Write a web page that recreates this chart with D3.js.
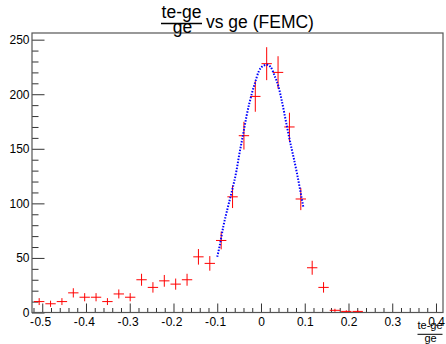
<!DOCTYPE html>
<html>
<head>
<meta charset="utf-8">
<script src="https://cdn.jsdelivr.net/npm/d3@7"></script>
<style>
  html, body { margin: 0; padding: 0; background: #fff; }
  svg { display: block; }
  text { font-family: "Liberation Sans", Arial, Helvetica, sans-serif; fill: #000; }
</style>
</head>
<body>
<svg id="chart" width="446" height="344"></svg>
<script>
// ---- data ----
const binCenters = [-0.507, -0.481, -0.455, -0.429, -0.403, -0.377, -0.351, -0.325, -0.299, -0.273,
                    -0.247, -0.221, -0.195, -0.169, -0.143, -0.117, -0.091, -0.065, -0.039, -0.013,
                     0.013,  0.039,  0.065,  0.091,  0.117,  0.143,  0.169,  0.195,  0.221];
const counts     = [10, 8, 10, 18, 14, 14, 10, 17, 14, 30,
                    23, 29, 26, 30, 51, 45, 66, 106, 162, 198,
                    228, 220, 170, 104, 41, 23, 2, 1, 1];
const binWidth = 0.026;

// fitted curve (dotted blue)
const fitX = [-0.100, -0.095, -0.086, -0.076, -0.066, -0.056, -0.050, -0.040, -0.033, -0.020,
              -0.014, -0.005, 0.005, 0.014, 0.022, 0.032, 0.040, 0.047, 0.059, 0.070,
               0.074, 0.082, 0.091, 0.097];
const fitY = [51, 60, 79, 96, 112, 130, 144, 165, 180, 202,
              210, 221, 226, 227, 225, 216, 207, 195, 171, 150,
              143, 128, 109, 96];

const xMajorTicks = [-0.5, -0.4, -0.3, -0.2, -0.1, 0, 0.1, 0.2, 0.3, 0.4];
const xTickLabels = ["-0.5", "-0.4", "-0.3", "-0.2", "-0.1", "0", "0.1", "0.2", "0.3", "0.4"];
const xMinorTicks = [-0.52, -0.48, -0.46, -0.44, -0.42, -0.38, -0.36, -0.34, -0.32, -0.28, -0.26, -0.24, -0.22,
                     -0.18, -0.16, -0.14, -0.12, -0.08, -0.06, -0.04, -0.02, 0.02, 0.04, 0.06, 0.08,
                     0.12, 0.14, 0.16, 0.18, 0.22, 0.24, 0.26, 0.28, 0.32, 0.34, 0.36, 0.38];
const yMajorTicks = [0, 50, 100, 150, 200, 250];
const yTickLabels = ["0", "50", "100", "150", "200", "250"];
const yMinorTicks = [10, 20, 30, 40, 60, 70, 80, 90, 110, 120, 130, 140, 160, 170, 180, 190,
                     210, 220, 230, 240];

const xDomain = [-0.5234, 0.4160];
const yDomain = [0, 256.1];

// ---- layout ----
const frame = { left: 32, right: 443, top: 33, bottom: 312.5 };
const svg = d3.select("#chart");

const x = d3.scaleLinear().domain(xDomain).range([frame.left, frame.right]);
const y = d3.scaleLinear().domain(yDomain).range([frame.bottom, frame.top]);

const axisColor = "#333";

// clip
svg.append("defs").append("clipPath").attr("id", "clip")
  .append("rect")
  .attr("x", frame.left).attr("y", frame.top)
  .attr("width", frame.right - frame.left).attr("height", frame.bottom - frame.top);

// ---- axes ----
const xMajorLen = 9, xMinorLen = 4.5, yMajorLen = 12.5, yMinorLen = 6.5;

// x minor
svg.append("g")
  .attr("transform", `translate(0,${frame.bottom})`)
  .call(d3.axisBottom(x).tickValues(xMinorTicks).tickSize(-xMinorLen).tickFormat(""))
  .call(g => g.select(".domain").remove())
  .call(g => g.selectAll("line").attr("stroke", axisColor));

// x major with labels
const xAxisG = svg.append("g")
  .attr("transform", `translate(0,${frame.bottom})`)
  .call(d3.axisBottom(x).tickValues(xMajorTicks).tickSize(-xMajorLen).tickPadding(5)
        .tickFormat((d, i) => xTickLabels[i].replace("-", "")))
  .call(g => g.select(".domain").remove())
  .call(g => g.selectAll("line").attr("stroke", axisColor));
xAxisG.selectAll("text")
  .attr("font-size", 12)
  .attr("font-family", "Liberation Sans, Arial, sans-serif");
// ROOT style: center label on the unsigned number, minus sign sits to its left
xAxisG.selectAll(".tick").each(function (d, i) {
  const lab = xTickLabels[i];
  if (lab.startsWith("-")) {
    const t = d3.select(this).select("text");
    const w = t.node().getComputedTextLength();
    d3.select(this).append("text")
      .attr("x", -w / 2 - 0.3)
      .attr("y", t.attr("y"))
      .attr("dy", t.attr("dy"))
      .attr("text-anchor", "end")
      .attr("font-size", 12)
      .attr("font-family", "Liberation Sans, Arial, sans-serif")
      .attr("fill", "#000")
      .text("-");
  }
});

// y minor
svg.append("g")
  .attr("transform", `translate(${frame.left},0)`)
  .call(d3.axisLeft(y).tickValues(yMinorTicks).tickSize(-yMinorLen).tickFormat(""))
  .call(g => g.select(".domain").remove())
  .call(g => g.selectAll("line").attr("stroke", axisColor));

// y major
svg.append("g")
  .attr("transform", `translate(${frame.left},0)`)
  .call(d3.axisLeft(y).tickValues(yMajorTicks).tickSize(-yMajorLen).tickPadding(2.5)
        .tickFormat((d, i) => yTickLabels[i]))
  .call(g => g.select(".domain").remove())
  .call(g => g.selectAll("line").attr("stroke", axisColor))
  .call(g => g.selectAll("text").attr("font-size", 12)
        .attr("font-family", "Liberation Sans, Arial, sans-serif"));

// frame
svg.append("rect")
  .attr("x", frame.left).attr("y", frame.top)
  .attr("width", frame.right - frame.left).attr("height", frame.bottom - frame.top)
  .attr("fill", "none").attr("stroke", "#555").attr("stroke-width", 1.2);

// ---- data: error-bar crosses ----
const plot = svg.append("g").attr("clip-path", "url(#clip)");
const pts = binCenters.map((c, i) => ({ c, v: counts[i] }));

plot.selectAll("line.h").data(pts).join("line")
  .attr("class", "h")
  .attr("x1", d => x(d.c - binWidth / 2) + 0.5)
  .attr("x2", d => x(d.c + binWidth / 2) - 0.5)
  .attr("y1", d => y(d.v)).attr("y2", d => y(d.v))
  .attr("stroke", "#ff0000").attr("stroke-width", 1);

plot.selectAll("line.v").data(pts).join("line")
  .attr("class", "v")
  .attr("x1", d => x(d.c)).attr("x2", d => x(d.c))
  .attr("y1", d => y(d.v - Math.sqrt(d.v)))
  .attr("y2", d => y(d.v + Math.sqrt(d.v)))
  .attr("stroke", "#ff0000").attr("stroke-width", 1);

// ---- fit curve ----
const fitPts = fitX.map((fx, i) => [fx, fitY[i]]);
plot.append("path")
  .datum(fitPts)
  .attr("fill", "none")
  .attr("stroke", "#0000ff")
  .attr("stroke-width", 2)
  .attr("stroke-dasharray", "1.5,1.5")
  .attr("d", d3.line().x(d => x(d[0])).y(d => y(d[1])).curve(d3.curveMonotoneX));

// ---- title ----
const title = svg.append("g");
title.append("text").attr("x", 181.5).attr("y", 18).attr("text-anchor", "middle")
  .attr("font-size", 17.5).text("te-ge");
title.append("line").attr("x1", 161).attr("x2", 202).attr("y1", 23.5).attr("y2", 23.5)
  .attr("stroke", "#000").attr("stroke-width", 1.3);
title.append("text").attr("x", 182.5).attr("y", 33).attr("text-anchor", "middle")
  .attr("font-size", 17.5).text("ge");
title.append("text").attr("x", 206).attr("y", 28).attr("text-anchor", "start")
  .attr("font-size", 17.5).text("vs ge (FEMC)");

// ---- x axis title (fraction) ----
const xt = svg.append("g");
xt.append("text").attr("x", 430).attr("y", 329).attr("text-anchor", "middle")
  .attr("font-size", 11).text("te-ge");
xt.append("line").attr("x1", 417.5).attr("x2", 442.5).attr("y1", 334.3).attr("y2", 334.3)
  .attr("stroke", "#000").attr("stroke-width", 1);
xt.append("text").attr("x", 430.5).attr("y", 341.5).attr("text-anchor", "middle")
  .attr("font-size", 11).text("ge");
</script>
</body>
</html>
